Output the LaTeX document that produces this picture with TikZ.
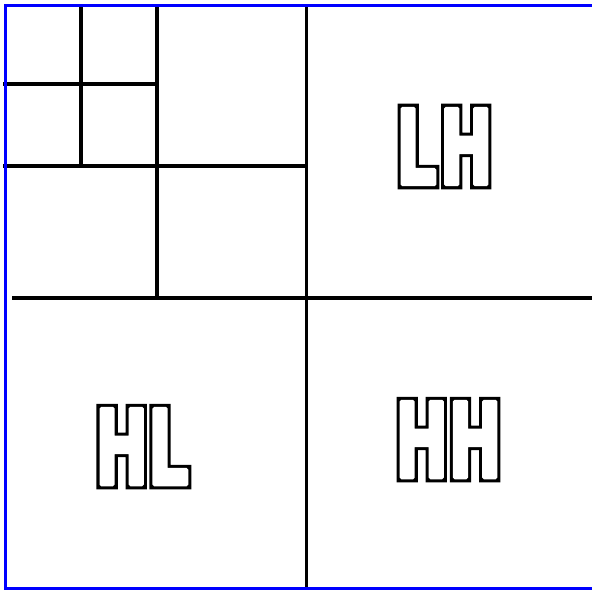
\documentclass[tikz,border=0pt]{standalone}
\usepackage{fontspec}
\newfontfamily\blockfont[FakeStretch=0.6]{DejaVu Sans}
% outline of a slightly emboldened glyph: wide black stroke, then white fill+stroke on top
\newcommand\outlinedtext[1]{%
  \rlap{\special{pdf:literal direct 1 Tr 7.1 w 0 j}#1}%
  {\color{white}\special{pdf:literal direct 2 Tr 2.6 w 1 j}#1}%
  \special{pdf:literal direct 0 Tr}}
\tikzset{
  gridline/.style={line width=2.3pt, black},
  border/.style={line width=2.2pt, blue},
  letters/.style={inner sep=0pt, outer sep=0pt, anchor=base west,
    font=\blockfont\bfseries\fontsize{78.2}{78.2}\selectfont}
}
\begin{document}
\begin{tikzpicture}[x=0.75pt,y=-0.75pt]
\path[use as bounding box] (0,0) rectangle (592,590);
\clip (0,0) rectangle (592,590);
% grid lines
\draw[gridline] (306.5,5) -- (306.5,590);
\draw[gridline] (12,298) -- (600,298);
\draw[gridline] (3,166) -- (306.5,166);
\draw[gridline] (157,5) -- (157,296);
\draw[gridline] (81,5) -- (81,166);
\draw[gridline] (3,84) -- (157,84);
% border
\draw[border] (5.3,5.3) rectangle (610,588.5);
% labels
\node[letters] (lh) at (396.5,184.5) {\outlinedtext{L\kern2.8pt H}};
\node[letters] (hl) at (95.5,484.5) {\outlinedtext{H\kern0.5pt L}};
\node[letters] (hh) at (395.5,477.5) {\outlinedtext{H\kern0.8pt H}};
\end{tikzpicture}
\end{document}
